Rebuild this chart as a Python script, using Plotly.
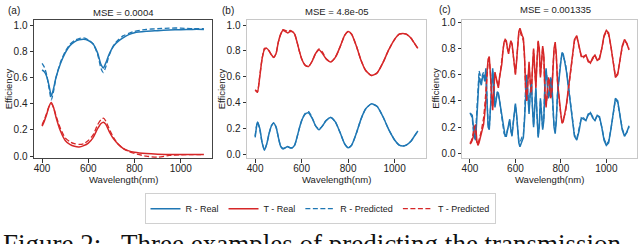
import plotly.graph_objects as go

# ---------------- data ----------------
wl_a = [400, 410, 420, 430, 440, 450, 460, 480, 500, 520, 540, 560, 580, 600, 620, 640, 655, 665, 675,
        690, 710, 730, 750, 775, 800, 850, 900, 950, 1000, 1050, 1100]
R_a_real = [.66, .645, .61, .54, .46, .52, .60, .71, .79, .845, .875, .89, .895, .885, .86, .79, .70, .675, .71,
            .78, .845, .88, .905, .93, .945, .955, .96, .965, .968, .97, .97]
R_a_pred = [.71, .68, .62, .52, .43, .50, .60, .72, .80, .855, .885, .90, .905, .89, .86, .78, .67, .64, .68,
            .77, .85, .89, .92, .94, .955, .97, .975, .98, .98, .975, .975]
T_a_real = [.23, .27, .32, .38, .41, .37, .30, .19, .12, .09, .075, .07, .08, .10, .14, .21, .25, .26, .245,
            .19, .13, .09, .06, .04, .03, .02, .015, .013, .012, .012, .012]
T_a_pred = [.24, .28, .33, .38, .40, .37, .31, .21, .14, .11, .095, .09, .095, .12, .16, .24, .28, .29, .27,
            .21, .14, .09, .06, .035, .02, .0, -.008, .005, .01, .012, .012]

wl_b = [400, 405, 410, 420, 430, 440, 450, 460, 470, 480, 490, 500, 510, 520, 530, 540, 550, 560, 570, 580,
        590, 600, 615, 630, 645, 660, 675, 690, 705, 725, 745, 765, 785, 800, 815, 835, 855, 875, 900, 925,
        950, 975, 1000, 1020, 1035, 1050, 1070, 1085, 1100]
R_b_real = [.13, .20, .25, .20, .09, .03, .08, .16, .22, .24, .21, .13, .06, .04, .05, .06, .05, .05, .07, .13,
            .20, .26, .31, .32, .28, .22, .19, .22, .26, .285, .25, .17, .08, .05, .07, .16, .27, .35, .39, .37,
            .29, .19, .11, .07, .063, .07, .10, .14, .18]
R_b_pred = [.14, .21, .25, .19, .09, .035, .08, .16, .22, .245, .21, .13, .06, .045, .05, .055, .05, .05, .07, .13,
            .20, .26, .315, .33, .285, .22, .195, .22, .26, .285, .25, .17, .08, .05, .07, .16, .27, .35, .39, .37,
            .29, .19, .11, .07, .063, .07, .10, .14, .18]
T_b_real = [.50, .49, .48, .60, .74, .81, .82, .80, .77, .75, .78, .87, .93, .96, .95, .94, .95, .95, .93, .87,
            .80, .74, .69, .68, .72, .78, .81, .78, .74, .715, .75, .83, .92, .95, .93, .84, .73, .65, .61, .63,
            .71, .81, .89, .93, .935, .93, .90, .86, .82]
T_b_pred = [.49, .49, .48, .61, .74, .82, .82, .80, .77, .75, .78, .87, .93, .965, .96, .95, .96, .95, .93, .87,
            .80, .74, .69, .68, .72, .78, .815, .79, .74, .715, .75, .83, .92, .95, .93, .84, .73, .65, .61, .63,
            .71, .81, .89, .93, .935, .93, .90, .86, .82]

wl_c = [400, 405, 410, 415, 420, 425, 430, 435, 440, 445, 450, 455, 460, 465, 470, 475, 480, 485, 490, 495,
        500, 505, 510, 515, 520, 525, 530, 535, 540, 545, 550, 555, 560, 565, 570, 575, 580, 585, 590, 595,
        600, 605, 610, 615, 620, 625, 630, 635, 640, 645, 650, 655, 660, 665, 670, 675, 680, 685, 690, 695,
        700, 705, 710, 715, 720, 725, 730, 735, 740, 745, 750, 755, 760, 765, 770, 775, 780, 785, 790, 795,
        800, 805, 810, 815, 820, 825, 830, 840, 850, 860, 870, 880, 890, 900, 910, 920, 930, 940, 950, 960,
        970, 980, 990, 1000, 1010, 1020, 1030, 1040, 1050, 1060, 1070, 1080, 1090, 1100]
R_c_real = [.30, .30, .29, .20, .12, .10, .25, .45, .58, .55, .52, .58, .60, .55, .65, .40, .20, .18, .35, .55,
            .65, .50, .35, .40, .47, .46, .40, .35, .30, .22, .15, .13, .13, .18, .22, .26, .18, .13, .22, .32,
            .38, .30, .18, .08, .05, .07, .10, .12, .25, .50, .60, .45, .30, .45, .55, .35, .20, .35, .50, .30,
            .12, .20, .42, .30, .18, .25, .55, .65, .55, .42, .45, .58, .55, .35, .20, .15, .25, .45, .55, .62,
            .70, .77, .76, .72, .68, .62, .55, .40, .25, .13, .10, .17, .27, .26, .25, .29, .31, .27, .25, .29,
            .28, .20, .10, .06, .08, .18, .32, .42, .40, .30, .18, .13, .16, .21]
R_c_pred = [.31, .29, .27, .17, .13, .16, .35, .52, .63, .60, .55, .60, .62, .58, .63, .42, .22, .19, .33, .52,
            .63, .52, .37, .41, .46, .45, .41, .34, .28, .21, .15, .14, .14, .18, .23, .25, .17, .14, .23, .33,
            .37, .29, .17, .09, .08, .11, .13, .14, .27, .52, .58, .44, .32, .46, .54, .36, .21, .36, .49, .29,
            .13, .21, .41, .31, .19, .27, .54, .63, .56, .43, .46, .57, .53, .34, .21, .17, .26, .44, .56, .64,
            .71, .75, .74, .71, .69, .63, .56, .42, .26, .14, .11, .18, .27, .27, .25, .30, .31, .28, .25, .29,
            .27, .20, .11, .07, .09, .18, .31, .41, .39, .30, .19, .14, .16, .20]
T_c_real = [.07, .08, .10, .13, .20, .22, .10, .06, .08, .12, .14, .18, .22, .30, .40, .62, .72, .74, .60, .40,
            .33, .50, .62, .58, .52, .50, .58, .63, .68, .78, .85, .87, .86, .80, .76, .82, .86, .84, .75, .66,
            .60, .70, .85, .93, .955, .92, .90, .88, .75, .50, .40, .55, .70, .55, .45, .65, .80, .65, .50, .70,
            .86, .80, .58, .70, .82, .75, .45, .35, .45, .58, .55, .42, .45, .65, .80, .85, .75, .55, .45, .38,
            .30, .23, .24, .28, .32, .38, .45, .60, .75, .87, .90, .83, .74, .74, .75, .71, .69, .73, .75, .71,
            .72, .80, .90, .94, .92, .82, .68, .58, .60, .70, .82, .87, .84, .79]
T_c_pred = [.08, .09, .12, .16, .21, .17, .08, .07, .10, .14, .17, .22, .27, .36, .48, .65, .70, .72, .62, .42,
            .35, .48, .60, .57, .53, .51, .57, .64, .70, .79, .85, .86, .85, .80, .77, .81, .85, .83, .74, .65,
            .61, .71, .86, .92, .93, .90, .88, .86, .73, .48, .41, .56, .68, .54, .46, .64, .79, .64, .51, .71,
            .85, .79, .59, .69, .81, .73, .46, .37, .44, .57, .54, .43, .47, .66, .79, .83, .74, .56, .44, .36,
            .29, .25, .26, .29, .31, .37, .44, .58, .74, .86, .89, .82, .74, .73, .75, .70, .69, .72, .75, .71,
            .73, .80, .89, .93, .91, .82, .69, .59, .61, .70, .81, .86, .84, .80]

panel_labels = ["(a)", "(b)", "(c)"]
mse_titles = ["MSE = 0.0004", "MSE = 4.8e-05", "MSE = 0.001335"]
legend_names = ["R - Real", "T - Real", "R - Predicted", "T - Predicted"]
x_ticks = [400, 600, 800, 1000]
y_ticks = [0.0, 0.2, 0.4, 0.6, 0.8, 1.0]

# ---------------- figure ----------------
W, H = 640, 244
BLUE, RED = "#1f77b4", "#d62728"
FONT = "Liberation Sans, Arial, sans-serif"


def fx(p):
    return p / W


def fy(p):
    return 1 - p / H


panels = [
    (wl_a, R_a_real, T_a_real, R_a_pred, T_a_pred),
    (wl_b, R_b_real, T_b_real, R_b_pred, T_b_pred),
    (wl_c, R_c_real, T_c_real, R_c_pred, T_c_pred),
]

fig = go.Figure()
for i, (wl, rr, tr, rp, tp) in enumerate(panels):
    xa = "x" if i == 0 else f"x{i + 1}"
    ya = "y" if i == 0 else f"y{i + 1}"
    sh = "spline" if i < 2 else "linear"
    specs = [
        (rr, legend_names[0], BLUE, "solid", 1.5),
        (tr, legend_names[1], RED, "solid", 1.5),
        (rp, legend_names[2], BLUE, "5px,2.5px", 1.3),
        (tp, legend_names[3], RED, "5px,2.5px", 1.3),
    ]
    for vals, name, col, dash, lw in specs:
        fig.add_trace(go.Scatter(
            x=wl, y=vals, mode="lines", name=name, xaxis=xa, yaxis=ya,
            line=dict(color=col, width=lw, dash=dash, shape=sh, smoothing=0.6),
            showlegend=(i == 0), legendgroup=name,
        ))

x_doms = [(34, 212), (247, 426), (462, 637)]
y_ranges = [(-0.015, 1.045), (-0.03, 1.043), (-0.037, 1.022)]
frame_cols = ["#444444", "#c8c8c8", "#c8c8c8"]
ydom = [fy(159), fy(17)]

layout = dict(
    width=W, height=H, margin=dict(l=0, r=0, t=0, b=0),
    paper_bgcolor="white", plot_bgcolor="white",
    font=dict(family=FONT, size=10, color="#222222"),
    showlegend=True,
    legend=dict(orientation="h", x=0.5, xanchor="center", y=fy(195), yanchor="top",
                bordercolor="#d0d0d0", borderwidth=1, font=dict(size=9, color="#222222"),
                itemwidth=30, tracegroupgap=0, traceorder="normal"),
)
for i in range(3):
    sfx = "" if i == 0 else str(i + 1)
    layout["xaxis" + sfx] = dict(
        domain=[fx(x_doms[i][0]), fx(x_doms[i][1])], range=[365, 1135],
        anchor="y" + sfx, tickvals=x_ticks, ticks="outside", ticklen=3.5, tickwidth=0.8,
        tickcolor="#333333", showline=True, linecolor=frame_cols[i], linewidth=1, mirror=True,
        showgrid=False, zeroline=False, tickfont=dict(size=10, color="#222222"),
        ticklabelstandoff=-3,
    )
    layout["yaxis" + sfx] = dict(
        domain=ydom, range=list(y_ranges[i]), anchor="x" + sfx,
        tickvals=y_ticks, tickformat=".1f", ticks="outside", ticklen=3.5, tickwidth=0.8,
        tickcolor="#333333", showline=True, linecolor=frame_cols[i], linewidth=1, mirror=True,
        showgrid=False, zeroline=False, tickfont=dict(size=10, color="#222222"),
    )
fig.update_layout(**layout)

ann = []
title_x = [123, 337, 555]
title_y = [10, 9, 7]
label_x = [14, 228, 445]
label_y = [8, 8, 7]
ytitle_x = [8.5, 221.5, 436]
for i in range(3):
    ann.append(dict(text=mse_titles[i], x=fx(title_x[i]), y=fy(title_y[i]), xref="paper", yref="paper",
                    showarrow=False, xanchor="center", yanchor="middle", font=dict(size=9.5)))
    ann.append(dict(text=panel_labels[i], x=fx(label_x[i]), y=fy(label_y[i]), xref="paper", yref="paper",
                    showarrow=False, xanchor="center", yanchor="middle", font=dict(size=10)))
    cx = (x_doms[i][0] + x_doms[i][1]) / 2
    ann.append(dict(text="Wavelength(nm)", x=fx(cx), y=fy(181), xref="paper", yref="paper",
                    showarrow=False, xanchor="center", yanchor="middle", font=dict(size=9.5)))
    ann.append(dict(text="Efficiency", x=fx(ytitle_x[i]), y=fy(88), xref="paper", yref="paper",
                    showarrow=False, xanchor="center", yanchor="middle", textangle=-90,
                    font=dict(size=9.5)))
ann.append(dict(text="Figure 2:\u00a0\u00a0 Three examples of predicting the transmission",
                x=fx(1), y=fy(247), xref="paper", yref="paper", showarrow=False,
                xanchor="left", yanchor="middle",
                font=dict(family="Liberation Serif, Times New Roman, serif", size=27, color="#111111")))
fig.update_layout(annotations=ann)

fig.write_html("out.html", config={"displayModeBar": False},
               post_script="document.body.style.margin='0px';document.body.style.overflow='hidden';")
